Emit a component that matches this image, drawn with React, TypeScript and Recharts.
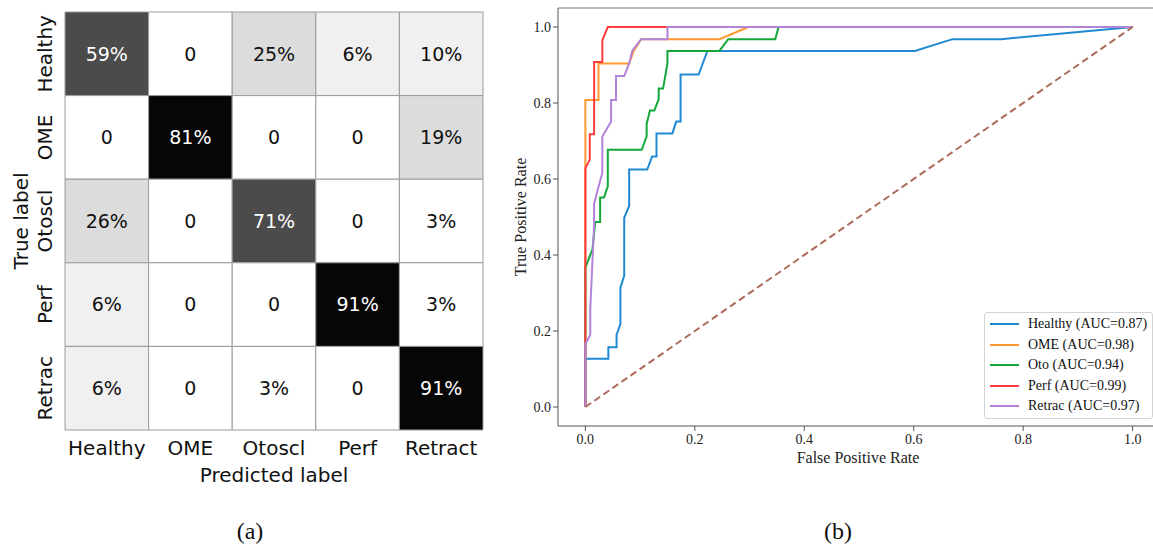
import {
  Legend,
  Line,
  LineChart,
  ReferenceArea,
  ReferenceLine,
  Scatter,
  ScatterChart,
  XAxis,
  YAxis,
} from "recharts";

const SANS = "'DejaVu Sans', sans-serif";
const SERIF = "'Liberation Serif', 'DejaVu Serif', serif";

// (a) confusion matrix, rows = true label, cols = predicted label
const predictedLabels = ["Healthy", "OME", "Otoscl", "Perf", "Retract"];
const trueLabels = ["Healthy", "OME", "Otoscl", "Perf", "Retrac"];
const matrixRows = [
  [59, 0, 25, 6, 10],
  [0, 81, 0, 0, 19],
  [26, 0, 71, 0, 3],
  [6, 0, 0, 91, 3],
  [6, 0, 3, 0, 91],
];
const matrixTicks = [0, 1, 2, 3, 4];

// (b) ROC curves
const healthyRoc = [
  [0, 0], [0, 0.127], [0.042, 0.127], [0.042, 0.157], [0.057, 0.157], [0.057, 0.19],
  [0.064, 0.218], [0.064, 0.314], [0.071, 0.345], [0.071, 0.498], [0.08, 0.529],
  [0.08, 0.625], [0.113, 0.625], [0.122, 0.659], [0.13, 0.659], [0.13, 0.72],
  [0.159, 0.72], [0.166, 0.751], [0.174, 0.751], [0.174, 0.875], [0.207, 0.875],
  [0.223, 0.937], [0.602, 0.937], [0.671, 0.968], [0.76, 0.968], [1, 1],
];
const omeRoc = [
  [0, 0], [0, 0.808], [0.024, 0.808], [0.024, 0.904], [0.08, 0.904], [0.088, 0.936],
  [0.102, 0.968], [0.245, 0.968], [0.298, 1], [1, 1],
];
const otoRoc = [
  [0, 0], [0, 0.367], [0.013, 0.415], [0.018, 0.487], [0.027, 0.487], [0.027, 0.551],
  [0.034, 0.551], [0.041, 0.581], [0.041, 0.677], [0.103, 0.677], [0.112, 0.712],
  [0.112, 0.745], [0.118, 0.78], [0.126, 0.78], [0.134, 0.81], [0.134, 0.838],
  [0.142, 0.838], [0.15, 0.904], [0.15, 0.937], [0.245, 0.937], [0.261, 0.968],
  [0.347, 0.968], [0.353, 1], [1, 1],
];
const perfRoc = [
  [0, 0], [0, 0.628], [0.008, 0.651], [0.008, 0.718], [0.016, 0.718], [0.016, 0.908],
  [0.031, 0.908], [0.031, 0.965], [0.041, 1], [1, 1],
];
const retracRoc = [
  [0, 0], [0, 0.166], [0.009, 0.19], [0.009, 0.26], [0.016, 0.48], [0.016, 0.535],
  [0.025, 0.585], [0.031, 0.616], [0.031, 0.712], [0.047, 0.751], [0.047, 0.808],
  [0.056, 0.808], [0.056, 0.871], [0.071, 0.871], [0.08, 0.904], [0.086, 0.938],
  [0.102, 0.968], [0.15, 0.968], [0.15, 1], [1, 1],
];
const chanceLine = [[0, 0], [1, 1]];
const rocTicks = [0, 0.2, 0.4, 0.6, 0.8, 1.0];

const rocSeries = [
  { name: "Healthy (AUC=0.87)", points: healthyRoc, color: "#1f8ad2" },
  { name: "OME (AUC=0.98)", points: omeRoc, color: "#ff982f" },
  { name: "Oto (AUC=0.94)", points: otoRoc, color: "#14a83a" },
  { name: "Perf (AUC=0.99)", points: perfRoc, color: "#ff3d3d" },
  { name: "Retrac (AUC=0.97)", points: retracRoc, color: "#b184d9" },
];
const legendNames = rocSeries.map((s) => s.name);

const toXY = (pts: number[][]) => pts.map(([x, y]) => ({ x, y }));

// greyscale shading, roughly what the source image shows
function cellFill(v: number) {
  if (v >= 80) return "#060606";
  if (v >= 50) return "#4b4b4b";
  if (v >= 15) return "#dcdcdc";
  if (v >= 5) return "#f0f0f0";
  return "#ffffff";
}

const cellPoints = matrixRows.flatMap((row, r) => row.map((v, c) => ({ col: c, row: r, v })));

const MatrixXTick = ({ x, y, payload }: any) => (
  <text x={x} y={y + 17} textAnchor="middle" fontSize={20} fontFamily={SANS} fill="#111">
    {predictedLabels[payload.value]}
  </text>
);

const MatrixYTick = ({ x, y, payload }: any) => (
  <text
    x={x - 5}
    y={y}
    transform={`rotate(-90, ${x - 5}, ${y})`}
    textAnchor="middle"
    fontSize={20}
    fontFamily={SANS}
    fill="#111"
  >
    {trueLabels[payload.value]}
  </text>
);

function ConfusionMatrix() {
  return (
    <ScatterChart width={500} height={546} margin={{ top: 12, right: 17, bottom: 0, left: 0 }}>
      <XAxis
        type="number"
        dataKey="col"
        domain={[-0.5, 4.5]}
        ticks={matrixTicks}
        height={116}
        axisLine={false}
        tickLine={false}
        tickSize={0}
        tickMargin={8}
        tick={<MatrixXTick />}
        label={(props: any) => {
          const vb = props.viewBox;
          return (
            <text x={vb.x + vb.width / 2} y={vb.y + 52} textAnchor="middle" fontSize={20} fontFamily={SANS} fill="#111">
              Predicted label
            </text>
          );
        }}
      />
      <YAxis
        type="number"
        dataKey="row"
        domain={[-0.5, 4.5]}
        reversed
        ticks={matrixTicks}
        width={65}
        axisLine={false}
        tickLine={false}
        tickSize={0}
        tickMargin={8}
        tick={<MatrixYTick />}
        label={(props: any) => {
          const vb = props.viewBox;
          const cx = vb.x + 28;
          const cy = vb.y + vb.height / 2;
          return (
            <text x={cx} y={cy} transform={`rotate(-90, ${cx}, ${cy})`} textAnchor="middle" fontSize={20} fontFamily={SANS} fill="#111">
              True label
            </text>
          );
        }}
      />
      {cellPoints.map((p) => (
        <ReferenceArea
          key={`${p.row}-${p.col}`}
          x1={p.col - 0.5}
          x2={p.col + 0.5}
          y1={p.row - 0.5}
          y2={p.row + 0.5}
          fill={cellFill(p.v)}
          fillOpacity={1}
          stroke="#9a9a9a"
          strokeWidth={1}
          label={{
            value: p.v === 0 ? "0" : `${p.v}%`,
            position: "center",
            fill: p.v >= 50 ? "#ffffff" : "#111111",
            fontSize: 19,
            fontFamily: SANS,
          }}
        />
      ))}
      <Scatter data={cellPoints} shape={() => <g />} isAnimationActive={false} />
    </ScatterChart>
  );
}

const RocLegend = ({ payload }: any) => (
  <div
    style={{
      border: "1px solid #d4d4d4",
      borderRadius: 3,
      background: "rgba(255,255,255,0.85)",
      padding: "1px 4px 1px 5px",
      fontFamily: SERIF,
      fontSize: 14,
      color: "#111",
    }}
  >
    {(payload || [])
      .filter((item: any) => legendNames.includes(item.value))
      .map((item: any) => (
        <div key={item.value} style={{ display: "flex", alignItems: "center", height: 20.5 }}>
          <span
            style={{
              display: "inline-block",
              width: 29,
              height: 0,
              borderTop: `2px solid ${item.color}`,
              marginRight: 9,
            }}
          />
          <span>{item.value}</span>
        </div>
      ))}
  </div>
);

function RocChart() {
  return (
    <LineChart width={680} height={546} margin={{ top: 8, right: 20, bottom: 70, left: 0 }}>
      <XAxis
        type="number"
        dataKey="x"
        domain={[-0.05, 1.05]}
        allowDataOverflow
        ticks={rocTicks}
        tickFormatter={(v: number) => v.toFixed(1)}
        height={50}
        stroke="#555"
        tickSize={5}
        tickMargin={3}
        tick={{ fill: "#222", fontSize: 14, fontFamily: SERIF }}
        label={(props: any) => {
          const vb = props.viewBox;
          return (
            <text x={vb.x + 300} y={vb.y + 37} textAnchor="middle" fontSize={16} fontFamily={SERIF} fill="#222">
              False Positive Rate
            </text>
          );
        }}
      />
      <YAxis
        type="number"
        dataKey="y"
        domain={[-0.05, 1.05]}
        allowDataOverflow
        ticks={rocTicks}
        tickFormatter={(v: number) => v.toFixed(1)}
        width={58}
        stroke="#555"
        tickSize={5}
        tickMargin={2}
        tick={{ fill: "#222", fontSize: 14, fontFamily: SERIF }}
        label={(props: any) => {
          const vb = props.viewBox;
          const cx = vb.x + 26;
          const cy = vb.y + vb.height / 2;
          return (
            <text x={cx} y={cy} transform={`rotate(-90, ${cx}, ${cy})`} textAnchor="middle" fontSize={16} fontFamily={SERIF} fill="#222">
              True Positive Rate
            </text>
          );
        }}
      />
      <ReferenceLine y={1.05} stroke="#777" strokeWidth={1.2} />
      <ReferenceLine x={1.05} stroke="#777" strokeWidth={1.2} />
      {rocSeries.map((s) => (
        <Line
          key={s.name}
          name={s.name}
          data={toXY(s.points)}
          dataKey="y"
          type="linear"
          stroke={s.color}
          strokeWidth={2}
          dot={false}
          activeDot={false}
          isAnimationActive={false}
        />
      ))}
      <Line
        name="chance"
        data={toXY(chanceLine)}
        dataKey="y"
        type="linear"
        stroke="#ad6b5b"
        strokeWidth={2}
        strokeDasharray="7 4"
        dot={false}
        activeDot={false}
        legendType="none"
        isAnimationActive={false}
      />
      <Legend
        layout="vertical"
        align="center"
        verticalAlign="middle"
        wrapperStyle={{ left: 484, top: 312, width: 169 }}
        content={<RocLegend />}
      />
    </LineChart>
  );
}

export default function App() {
  return (
    <div
      style={{
        position: "absolute",
        left: 0,
        top: 0,
        width: 1153,
        height: 546,
        overflow: "hidden",
        background: "#fff",
      }}
    >
      <div style={{ position: "absolute", left: 0, top: 0 }}>
        <ConfusionMatrix />
      </div>
      <div style={{ position: "absolute", left: 500, top: 0 }}>
        <RocChart />
      </div>
      <svg width={1153} height={546} style={{ position: "absolute", left: 0, top: 0, pointerEvents: "none" }}>
        <text x={250} y={539} textAnchor="middle" fontSize={24} fontFamily={SERIF} fill="#111">
          (a)
        </text>
        <text x={838} y={539} textAnchor="middle" fontSize={24} fontFamily={SERIF} fill="#111">
          (b)
        </text>
      </svg>
    </div>
  );
}
